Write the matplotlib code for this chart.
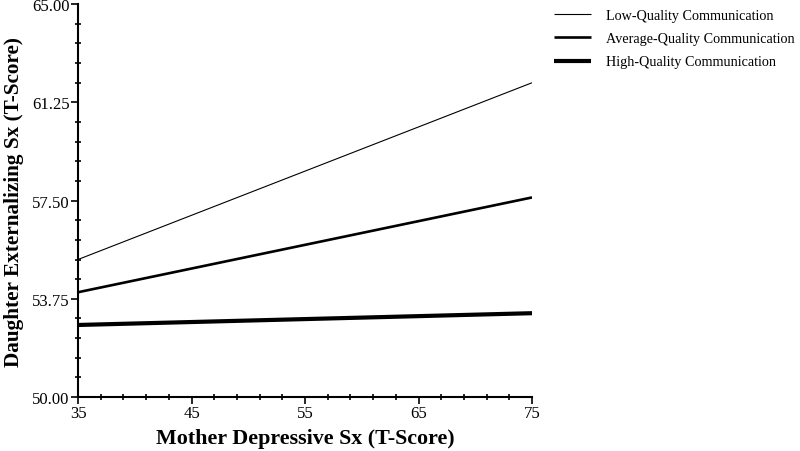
"""Simple slopes plot: daughter externalizing by mother depressive symptoms."""

import matplotlib

matplotlib.use("Agg")
import matplotlib.pyplot as plt
from matplotlib.ticker import AutoMinorLocator, FixedLocator

plt.rcParams["font.family"] = ["Liberation Serif", "DejaVu Serif"]

mother_sx = [35, 75]
low_quality = [55.25, 62.0]
average_quality = [54.0, 57.62]
high_quality = [52.75, 53.2]

series_names = [
	"Low-Quality Communication",
	"Average-Quality Communication",
	"High-Quality Communication",
]
x_ticks = [35, 45, 55, 65, 75]
y_ticks = [50.00, 53.75, 57.50, 61.25, 65.00]

fig = plt.figure(figsize=(8, 4.52), dpi=100)
axis = fig.add_axes([0.0975, 0.1195, 0.5675, 0.869])

widths = [0.8, 1.9, 3.0]
for values, name, width in zip([low_quality, average_quality, high_quality], series_names, widths):
	axis.plot(mother_sx, values, color="black", linewidth=width, label=name, solid_capstyle="butt")

axis.set_xlim(35, 75)
axis.set_ylim(50, 65)
axis.xaxis.set_major_locator(FixedLocator(x_ticks))
axis.yaxis.set_major_locator(FixedLocator(y_ticks))
axis.xaxis.set_minor_locator(AutoMinorLocator(5))
axis.yaxis.set_minor_locator(AutoMinorLocator(5))
axis.set_yticklabels([f"{v:.2f}" for v in y_ticks])
axis.set_xticklabels([str(v) for v in x_ticks])

for side in ("top", "right"):
	axis.spines[side].set_visible(False)
for side in ("left", "bottom"):
	axis.spines[side].set_linewidth(1.5)

axis.tick_params(which="major", direction="out", length=5, width=1.2, labelsize=12, pad=1)
axis.tick_params(which="minor", direction="inout", length=4, width=1.2)

axis.set_xlabel("Mother Depressive Sx (T-Score)", fontsize=15.8, fontweight="bold", labelpad=5)
axis.set_ylabel("Daughter Externalizing Sx (T-Score)", fontsize=15.3, fontweight="bold", labelpad=6)

axis.legend(
	loc="upper left",
	bbox_to_anchor=(1.021, 1.02),
	frameon=False,
	fontsize=10.2,
	handlelength=2.6,
	handletextpad=1.05,
	labelspacing=0.72,
)

fig.savefig("out.png", dpi=100)
